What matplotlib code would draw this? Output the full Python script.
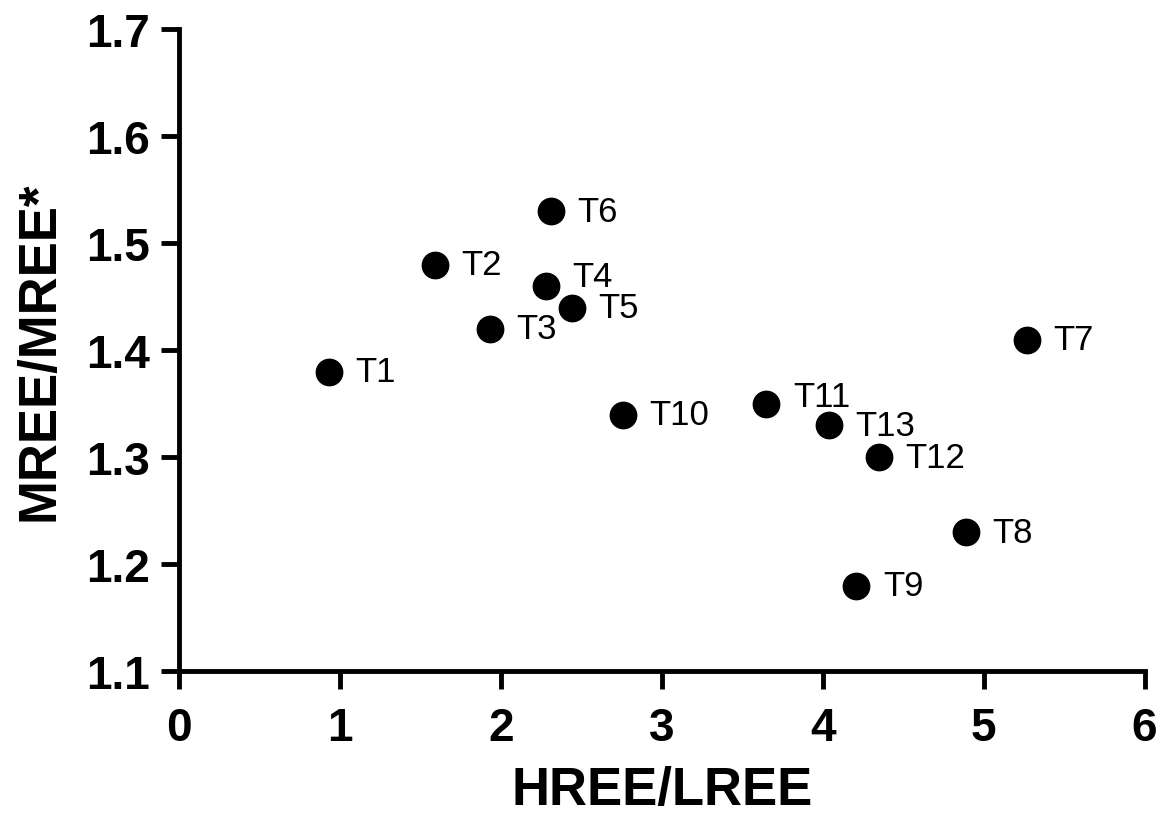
import matplotlib
matplotlib.use("Agg")
import matplotlib.pyplot as plt

# valeurs
echantillons = ["T1", "T2", "T3", "T4", "T5", "T6", "T7", "T8", "T9", "T10", "T11", "T12", "T13"]
hree_lree = [0.93, 1.59, 1.93, 2.28, 2.44, 2.31, 5.27, 4.89, 4.21, 2.76, 3.65, 4.35, 4.04]
mree_ratio = [1.38, 1.48, 1.42, 1.46, 1.44, 1.53, 1.41, 1.23, 1.18, 1.34, 1.35, 1.30, 1.33]

# decalage vertical de quelques etiquettes (en points)
decalage_y = {"T4": 7, "T11": 5}

plt.rcParams["font.family"] = ["Liberation Sans", "DejaVu Sans"]

fig = plt.figure(figsize=(11.62, 8.2), dpi=100)
ax = fig.add_axes([0.154, 0.180, 0.831, 0.783])

ax.plot(hree_lree, mree_ratio, "o", color="black", markersize=19, linestyle="none",
        clip_on=False)
for nom, x, y in zip(echantillons, hree_lree, mree_ratio):
    ax.annotate(nom, (x, y), xytext=(19, decalage_y.get(nom, 0)), textcoords="offset points",
                va="center", ha="left", fontsize=25)

ax.set_xlim(0, 6)
ax.set_ylim(1.1, 1.7)
ax.set_xticks(range(0, 7))
ax.set_yticks([1.1, 1.2, 1.3, 1.4, 1.5, 1.6, 1.7])
ax.set_yticklabels(["1.1", "1.2", "1.3", "1.4", "1.5", "1.6", "1.7"])

for cote in ["top", "right"]:
    ax.spines[cote].set_visible(False)
for cote in ["left", "bottom"]:
    ax.spines[cote].set_linewidth(3.5)
ax.tick_params(axis="both", width=3.5, length=13, labelsize=33)
ax.tick_params(axis="x", pad=12)
ax.tick_params(axis="y", pad=8)
for lab in ax.get_xticklabels() + ax.get_yticklabels():
    lab.set_fontweight("bold")

ax.set_xlabel("HREE/LREE", fontsize=38, fontweight="bold", va="center")
ax.set_ylabel("MREE/MREE*", fontsize=38, fontweight="bold", va="center")
ax.xaxis.set_label_coords(0.5, -0.184)
ax.yaxis.set_label_coords(-0.144, 0.5)

fig.savefig("out.png", dpi=100)
